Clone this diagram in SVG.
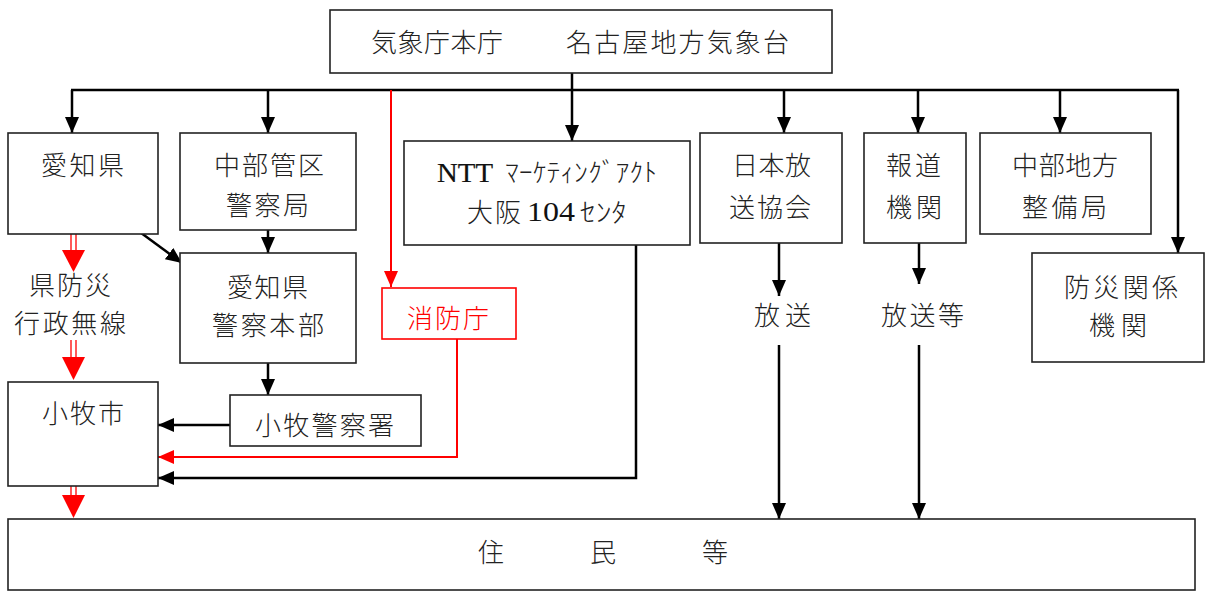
<svg xmlns="http://www.w3.org/2000/svg" width="1207" height="596" viewBox="0 0 1207 596">
<defs>
<style>
.box{fill:#fff;stroke:#222;stroke-width:1.6}
.rbox{fill:#fff;stroke:#f00;stroke-width:1.6}
.t{font-family:"Noto Sans CJK JP",sans-serif;font-size:26px;font-weight:300;fill:#222}
.r{fill:#f00}
.s{font-family:"Liberation Serif","Noto Sans CJK JP",serif;font-size:27px;fill:#111}
.ln{fill:none;stroke:#000;stroke-width:2.5}
.rl{fill:none;stroke:#f00;stroke-width:2}
.dl{stroke:#f00;stroke-width:1.3}
</style>
<marker id="ab" viewBox="0 -7 16 14" markerWidth="16" markerHeight="14" refX="16" refY="0" orient="auto" markerUnits="userSpaceOnUse"><path d="M0,-7L16,0L0,7z" fill="#000"/></marker>
<marker id="ar" viewBox="0 -7 16 14" markerWidth="16" markerHeight="14" refX="16" refY="0" orient="auto" markerUnits="userSpaceOnUse"><path d="M0,-7L16,0L0,7z" fill="#f00"/></marker>
</defs>
<rect width="1207" height="596" fill="#fff"/>

<g id="connectors">
<line class="ln" x1="71" y1="90" x2="1179" y2="90"/>
<line class="ln" x1="572" y1="73" x2="572" y2="141" marker-end="url(#ab)"/>
<line class="ln" x1="72" y1="90" x2="72" y2="133" marker-end="url(#ab)"/>
<line class="ln" x1="268" y1="90" x2="268" y2="133" marker-end="url(#ab)"/>
<line class="ln" x1="784" y1="90" x2="784" y2="133" marker-end="url(#ab)"/>
<line class="ln" x1="918" y1="90" x2="918" y2="133" marker-end="url(#ab)"/>
<line class="ln" x1="1060" y1="90" x2="1060" y2="133" marker-end="url(#ab)"/>
<line class="ln" x1="1178" y1="90" x2="1178" y2="253" marker-end="url(#ab)"/>
<line class="rl" x1="391" y1="90" x2="391" y2="287" marker-end="url(#ar)"/>
<line class="ln" x1="268" y1="230" x2="268" y2="253" marker-end="url(#ab)"/>
<line class="ln" x1="268" y1="363" x2="268" y2="395" marker-end="url(#ab)"/>
<line class="ln" x1="133" y1="227" x2="182" y2="263" marker-end="url(#ab)"/>
<line class="ln" x1="230" y1="425" x2="158" y2="425" marker-end="url(#ab)"/>
<polyline class="rl" points="457,339 457,457 158,457" marker-end="url(#ar)"/>
<polyline class="ln" points="636,245 636,478 158,478" marker-end="url(#ab)"/>
<line class="ln" x1="779" y1="243" x2="779" y2="296" marker-end="url(#ab)"/>
<line class="ln" x1="919" y1="243" x2="919" y2="284" marker-end="url(#ab)"/>
<line class="ln" x1="779" y1="345" x2="779" y2="519" marker-end="url(#ab)"/>
<line class="ln" x1="919" y1="345" x2="919" y2="519" marker-end="url(#ab)"/>
<g id="double-red">
<line class="dl" x1="71" y1="234" x2="71" y2="251"/><line class="dl" x1="76" y1="234" x2="76" y2="251"/>
<polygon points="62,250 85,250 73.5,272" fill="#f00"/>
<line class="dl" x1="71" y1="340" x2="71" y2="358"/><line class="dl" x1="76" y1="340" x2="76" y2="358"/>
<polygon points="62,357 85,357 73.5,380" fill="#f00"/>
<line class="dl" x1="71" y1="486" x2="71" y2="496"/><line class="dl" x1="76" y1="486" x2="76" y2="496"/>
<polygon points="62,495 85,495 73.5,518" fill="#f00"/>
</g>
</g>

<g id="jma">
<rect class="box" x="330" y="10" width="502" height="63"/>
<text class="t" x="371" y="52" textLength="132" lengthAdjust="spacing">気象庁本庁</text>
<text class="t" x="566" y="52" textLength="223" lengthAdjust="spacing">名古屋地方気象台</text>
</g>

<g id="aichi">
<rect class="box" x="8" y="133" width="150" height="101"/>
<text class="t" x="41" y="175" textLength="83" lengthAdjust="spacing">愛知県</text>
</g>

<g id="chubu-police">
<rect class="box" x="180" y="133" width="176" height="97"/>
<text class="t" x="214" y="175" textLength="110" lengthAdjust="spacing">中部管区</text>
<text class="t" x="226" y="215" textLength="83" lengthAdjust="spacing">警察局</text>
</g>

<g id="aichi-police">
<rect class="box" x="180" y="253" width="176" height="110"/>
<text class="t" x="227" y="297" textLength="81" lengthAdjust="spacing">愛知県</text>
<text class="t" x="212" y="335" textLength="112" lengthAdjust="spacing">警察本部</text>
</g>

<g id="komaki-police">
<rect class="box" x="230" y="395" width="191" height="51"/>
<text class="t" x="255" y="435" textLength="139" lengthAdjust="spacing">小牧警察署</text>
</g>

<g id="radio-label">
<text class="t" x="29" y="295" textLength="82" lengthAdjust="spacing">県防災</text>
<text class="t" x="14" y="333" textLength="112" lengthAdjust="spacing">行政無線</text>
</g>

<g id="komaki">
<rect class="box" x="8" y="382" width="150" height="104"/>
<text class="t" x="42" y="423" textLength="82" lengthAdjust="spacing">小牧市</text>
</g>

<g id="fdma">
<rect class="rbox" x="382" y="288" width="134" height="51"/>
<text class="t r" x="407" y="328" textLength="82" lengthAdjust="spacing">消防庁</text>
</g>

<g id="ntt">
<rect class="box" x="404" y="141" width="286" height="104"/>
<text class="s" x="437" y="182" textLength="56" lengthAdjust="spacingAndGlyphs" stroke="#111" stroke-width="0.2">NTT</text>
<text class="t" x="505" y="182" textLength="152" lengthAdjust="spacingAndGlyphs">ﾏｰｹﾃｨﾝｸﾞｱｸﾄ</text>
<text class="t" x="467" y="222" textLength="54" lengthAdjust="spacing">大阪</text>
<text class="s" x="527" y="221" textLength="48" lengthAdjust="spacingAndGlyphs">104</text>
<text class="t" x="580" y="222" textLength="47" lengthAdjust="spacingAndGlyphs">ｾﾝﾀ</text>
</g>

<g id="nhk">
<rect class="box" x="700" y="133" width="142" height="110"/>
<text class="t" x="732" y="175" textLength="79" lengthAdjust="spacing">日本放</text>
<text class="t" x="729" y="217" textLength="82" lengthAdjust="spacing">送協会</text>
</g>

<g id="press">
<rect class="box" x="864" y="133" width="102" height="110"/>
<text class="t" x="886" y="175" textLength="55" lengthAdjust="spacing">報道</text>
<text class="t" x="886" y="217" textLength="56" lengthAdjust="spacing">機関</text>
</g>

<g id="chubu-bureau">
<rect class="box" x="980" y="133" width="171" height="101"/>
<text class="t" x="1012" y="175" textLength="106" lengthAdjust="spacing">中部地方</text>
<text class="t" x="1022" y="217" textLength="85" lengthAdjust="spacing">整備局</text>
</g>

<g id="disaster-orgs">
<rect class="box" x="1032" y="253" width="172" height="109"/>
<text class="t" x="1064" y="297" textLength="114" lengthAdjust="spacing">防災関係</text>
<text class="t" x="1089" y="335" textLength="58" lengthAdjust="spacing">機関</text>
</g>

<g id="broadcast-labels">
<text class="t" x="754" y="325" textLength="57" lengthAdjust="spacing">放送</text>
<text class="t" x="881" y="325" textLength="83" lengthAdjust="spacing">放送等</text>
</g>

<g id="residents">
<rect class="box" x="8" y="519" width="1187" height="71"/>
<text class="t" x="478" y="562">住</text>
<text class="t" x="590" y="562">民</text>
<text class="t" x="702" y="562">等</text>
</g>
</svg>
